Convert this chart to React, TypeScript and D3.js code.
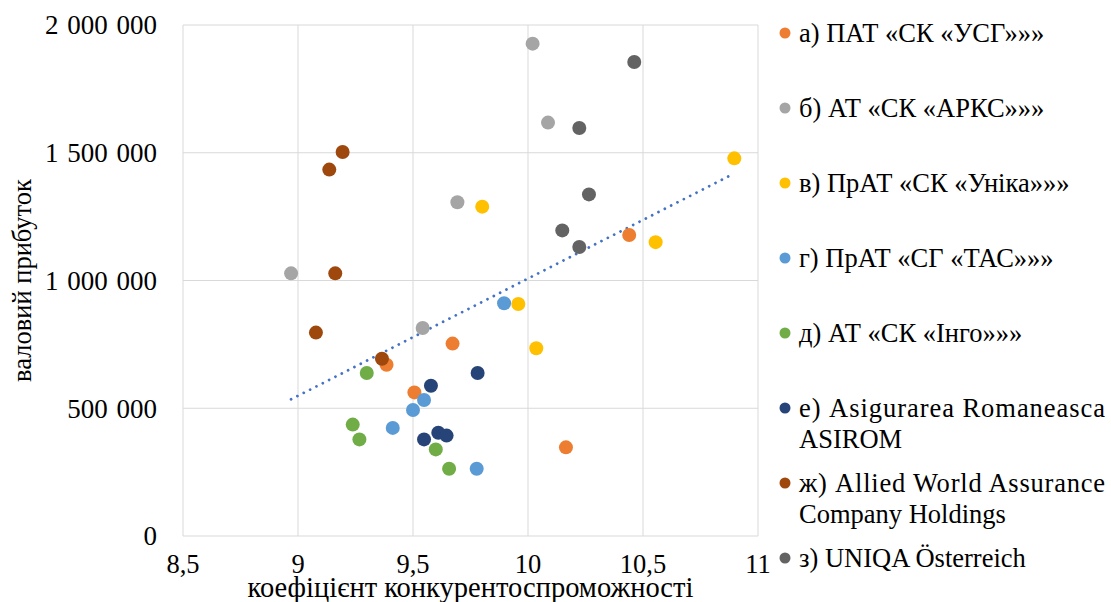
import { useEffect, useRef } from 'react';
import * as d3 from 'd3';

// серії: назви (по рядках для легенди) і кольори
const seriesLabels: string[][] = [
  ['а) ПАТ «СК «УСГ»»»'],
  ['б) АТ «СК «АРКС»»»'],
  ['в) ПрАТ «СК «Уніка»»»'],
  ['г) ПрАТ «СГ «ТАС»»»'],
  ['д) АТ «СК «Інго»»»'],
  ['е) Asigurarea Romaneasca', 'ASIROM'],
  ['ж) Allied World Assurance', 'Company Holdings'],
  ['з) UNIQA Österreich'],
];
const seriesColors = ['#ED7D31', '#A5A5A5', '#FFC000', '#5B9BD5', '#70AD47', '#264478', '#9E480E', '#636363'];

// коефіцієнт конкурентоспроможності
const xValues: number[][] = [
  [9.385, 9.672, 9.506, 10.44, 10.165],
  [8.97, 10.02, 10.087, 9.693, 9.542],
  [9.801, 10.897, 10.555, 9.958, 10.036],
  [9.896, 9.412, 9.548, 9.5, 9.777],
  [9.299, 9.238, 9.267, 9.599, 9.657],
  [9.578, 9.781, 9.548, 9.61, 9.646],
  [9.194, 9.136, 9.162, 9.078, 9.365],
  [10.462, 10.223, 10.265, 10.149, 10.223],
];
// валовий прибуток
const yValues: number[][] = [
  [670000, 753000, 562000, 1178000, 347000],
  [1028000, 1927000, 1618000, 1306000, 814000],
  [1289000, 1478000, 1150000, 908000, 735000],
  [911000, 423000, 532000, 493000, 263000],
  [638000, 436000, 378000, 339000, 263000],
  [588000, 638000, 378000, 404000, 393000],
  [1503000, 1434000, 1028000, 796000, 694000],
  [1855000, 1597000, 1337000, 1196000, 1131000],
];

const xTicks = [8.5, 9, 9.5, 10, 10.5, 11];
const yTicks = [0, 500000, 1000000, 1500000, 2000000];

const FONT = "'Liberation Serif', 'Times New Roman', serif";

const App = () => {
  const ref = useRef<SVGSVGElement>(null);

  useEffect(() => {
    const svg = d3.select(ref.current);
    svg.selectAll('*').remove();

    const margin = { top: 25, left: 183, right: 353, bottom: 66 };
    const width = 1111;
    const height = 602;

    const x = d3.scaleLinear().domain([8.5, 11]).range([margin.left, width - margin.right]);
    const y = d3.scaleLinear().domain([0, 2000000]).range([height - margin.bottom, margin.top]);

    const fmt = (v: number) => d3.format(',')(v).replace(/,/g, ' ');
    const fmtX = (v: number) => String(v).replace('.', ',');

    // сітка
    svg.append('g')
      .selectAll('line')
      .data(yTicks)
      .join('line')
      .attr('x1', x(8.5))
      .attr('x2', x(11))
      .attr('y1', (d) => y(d))
      .attr('y2', (d) => y(d))
      .attr('stroke', '#D9D9D9');

    svg.append('g')
      .selectAll('line')
      .data(xTicks)
      .join('line')
      .attr('x1', (d) => x(d))
      .attr('x2', (d) => x(d))
      .attr('y1', y(0))
      .attr('y2', y(2000000))
      .attr('stroke', '#D9D9D9');

    const txt = svg.append('g').style('font-family', FONT).attr('fill', '#000');

    // підписи осей
    txt.append('g')
      .selectAll('text')
      .data(yTicks)
      .join('text')
      .attr('x', margin.left - 26)
      .attr('y', (d) => y(d))
      .attr('dy', '0.35em')
      .attr('text-anchor', 'end')
      .style('font-size', '27px')
      .style('word-spacing', '2px')
      .text((d) => fmt(d));

    txt.append('g')
      .selectAll('text')
      .data(xTicks)
      .join('text')
      .attr('x', (d) => x(d))
      .attr('y', 573)
      .attr('text-anchor', 'middle')
      .style('font-size', '26.5px')
      .text((d) => fmtX(d));

    txt.append('text')
      .attr('x', (x(8.5) + x(11)) / 2)
      .attr('y', 597)
      .attr('text-anchor', 'middle')
      .style('font-size', '28.5px')
      .text('коефіцієнт конкурентоспроможності');

    txt.append('text')
      .attr('transform', `translate(22,${(y(0) + y(2000000)) / 2}) rotate(-90)`)
      .attr('dy', '0.35em')
      .attr('text-anchor', 'middle')
      .style('font-size', '26.5px')
      .text('валовий прибуток');

    // лінія тренду (лінійна, по всіх точках)
    const allPts = xValues.flatMap((xs, i) => xs.map((v, j) => [v, yValues[i][j]] as [number, number]));
    const mx = d3.mean(allPts, (p) => p[0])!;
    const my = d3.mean(allPts, (p) => p[1])!;
    const sxy = d3.sum(allPts, (p) => (p[0] - mx) * (p[1] - my));
    const sxx = d3.sum(allPts, (p) => (p[0] - mx) ** 2);
    const slope = sxy / sxx;
    const icpt = my - slope * mx;
    const [xMin, xMax] = d3.extent(allPts, (p) => p[0]) as [number, number];
    const trend: [number, number][] = [[xMin, icpt + slope * xMin], [xMax, icpt + slope * xMax]];

    svg.append('path')
      .datum(trend)
      .attr('d', d3.line<[number, number]>().x((d) => x(d[0])).y((d) => y(d[1])))
      .attr('fill', 'none')
      .attr('stroke', '#4472C4')
      .attr('stroke-width', 2.8)
      .attr('stroke-linecap', 'round')
      .attr('stroke-dasharray', '0.01 7.1');

    // точки
    xValues.forEach((xs, i) => {
      svg.append('g')
        .selectAll('circle')
        .data(xs.map((v, j) => [v, yValues[i][j]]))
        .join('circle')
        .attr('cx', (d) => x(d[0]))
        .attr('cy', (d) => y(d[1]))
        .attr('r', 7)
        .attr('fill', seriesColors[i]);
    });

    // легенда
    const ly = d3.scalePoint<number>().domain(d3.range(seriesLabels.length)).range([33, 558]);
    const legend = svg.append('g').style('font-family', FONT);
    seriesLabels.forEach((lines, i) => {
      legend.append('circle')
        .attr('cx', 785)
        .attr('cy', ly(i)!)
        .attr('r', 5.5)
        .attr('fill', seriesColors[i]);
      lines.forEach((line, k) => {
        const t = legend.append('text')
          .attr('x', 799)
          .attr('y', ly(i)! + k * 30.5)
          .attr('dy', '0.35em')
          .style('font-size', '26.5px')
          .attr('fill', '#000')
          .text(line);
        // вирівнювання по ширині, як у вихідній легенді
        if (lines.length > 1 && k < lines.length - 1) {
          t.attr('textLength', 306).attr('lengthAdjust', 'spacing');
        }
      });
    });
  }, []);

  return (
    <div style={{ position: 'fixed', left: 0, top: 0 }}>
      <svg ref={ref} width={1111} height={602} style={{ display: 'block', background: '#fff' }} />
    </div>
  );
};

export default App;
